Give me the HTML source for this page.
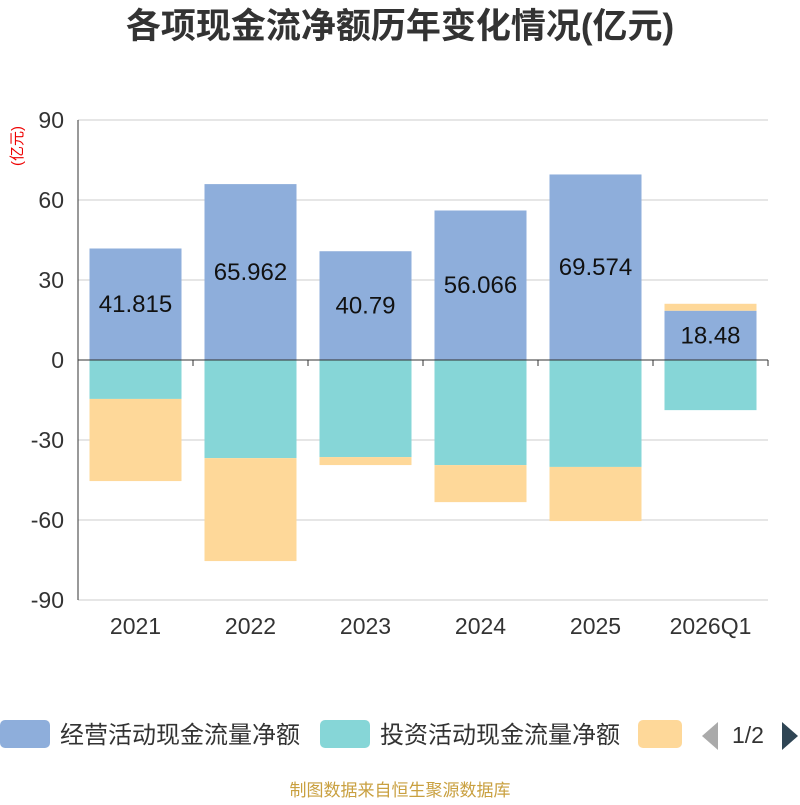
<!DOCTYPE html>
<html><head><meta charset="utf-8"><style>
body{margin:0;background:#fff;width:800px;height:800px;overflow:hidden;font-family:"Liberation Sans","Noto Sans CJK SC",sans-serif}
</style></head><body>
<svg id="chart" width="800" height="800" xmlns="http://www.w3.org/2000/svg">
<text x="400" y="38" text-anchor="middle" font-size="35" font-weight="bold" fill="#333">各项现金流净额历年变化情况(亿元)</text>
<text x="22" y="146" font-size="15" fill="#e00" transform="rotate(-90 22 146)" text-anchor="middle">(亿元)</text>
<g id="grid"></g><g id="bars"></g><g id="axes"></g>
<g>
<rect x="0" y="720" width="50" height="28" rx="5" fill="#8eaedb"/>
<text x="60" y="743" font-size="24" fill="#333">经营活动现金流量净额</text>
<rect x="320" y="720" width="50" height="28" rx="5" fill="#86d6d7"/>
<text x="380" y="743" font-size="24" fill="#333">投资活动现金流量净额</text>
<rect x="638" y="720" width="44" height="28" rx="5" fill="#fed899"/>
<polygon points="718,722 718,750 702,736" fill="#aaa"/>
<text x="732" y="743" font-size="23" fill="#333">1/2</text>
<polygon points="782,722 782,750 798,736" fill="#2f4554"/>
</g>
<text x="400" y="796" text-anchor="middle" font-size="17" fill="#c9a040">制图数据来自恒生聚源数据库</text>
</svg>
<script>
const categories=["2021","2022","2023","2024","2025","2026Q1"];
const operating=[41.815,65.962,40.79,56.066,69.574,18.48];
const investing=[-14.6,-36.8,-36.4,-39.4,-40.1,-18.8];
const financing=[-30.8,-38.6,-3.0,-13.9,-20.3,2.6];
const yTicks=[90,60,30,0,-30,-60,-90];
const NS="http://www.w3.org/2000/svg";
const L=78,R=768,T=120,B=600,yMax=90,yMin=-90;
const y=v=>T+(yMax-v)/(yMax-yMin)*(B-T);
const step=(R-L)/categories.length,bw=92;
const x=i=>L+step*i+(step-bw)/2;
function mk(tag,at,parent){const e=document.createElementNS(NS,tag);for(const k in at)e.setAttribute(k,at[k]);document.getElementById(parent).appendChild(e);return e;}
yTicks.forEach(t=>{
 const g=mk("line",{x1:L,x2:R,y1:y(t),y2:y(t),stroke:"#ccc","stroke-width":1},"grid");
 
 
 const tx=mk("text",{x:L-14,y:y(t)+8,"text-anchor":"end","font-size":23,fill:"#333"},"axes");
 tx.textContent=t;
 
 
});
const ax=mk("line",{x1:L,x2:L,y1:T,y2:B,stroke:"#333","stroke-width":1},"axes");


const zx=mk("line",{x1:L,x2:R,y1:y(0),y2:y(0),stroke:"#333","stroke-width":1},"axes");


categories.forEach((c,i)=>{
 const tk=mk("line",{x1:L+step*(i+1),x2:L+step*(i+1),y1:y(0),y2:y(0)+6,stroke:"#333"},"axes");
 
 
 const lb=mk("text",{x:L+step*(i+0.5),y:634,"text-anchor":"middle","font-size":23,fill:"#333"},"axes");
 lb.textContent=c;
 
 
 let pos=0,neg=0;
 [[operating,"#8eaedb","bar-operating"],[investing,"#86d6d7","bar-investing"],[financing,"#fed899","bar-financing"]].forEach(([arr,col,nm])=>{
  const v=arr[i];let a,b;
  if(v>=0){a=pos;b=pos+v;pos=b;}else{a=neg;b=neg+v;neg=b;}
  const r=mk("rect",{x:x(i),width:bw,y:Math.min(y(a),y(b)),height:Math.abs(y(a)-y(b)),fill:col},"bars");
  
  
 });
 const vl=mk("text",{x:x(i)+bw/2,y:(y(0)+y(operating[i]))/2+8,"text-anchor":"middle","font-size":24,fill:"#111"},"bars");
 vl.textContent=operating[i];
 
 
});
</script>
</body></html>
